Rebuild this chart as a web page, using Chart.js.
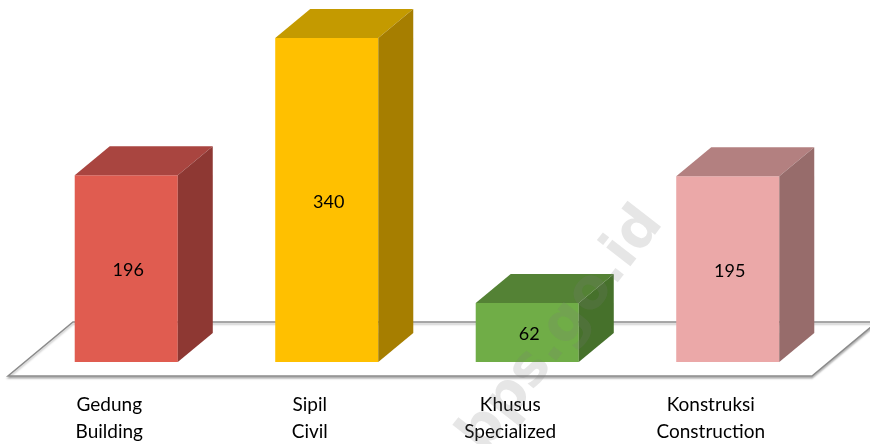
<!DOCTYPE html>
<html>
<head>
<meta charset="utf-8">
<script src="https://cdn.jsdelivr.net/npm/chart.js@4.4.1/dist/chart.umd.min.js"></script>
<style>
  html, body { margin: 0; padding: 0; background: #fff; }
  #wrap { width: 870px; height: 444px; position: relative; }
</style>
</head>
<body>
<div id="wrap"><canvas id="chart"></canvas></div>
<script>
const categories = [['Gedung', 'Building'], ['Sipil', 'Civil'], ['Khusus', 'Specialized'], ['Konstruksi', 'Construction']];
const values = [196, 340, 62, 195];
const frontColors = ['#E05C50', '#FFC000', '#70AD47', '#EBA8A8'];
const topColors = ['#A94540', '#C49A00', '#548235', '#B38080'];
const sideColors = ['#8E3833', '#A67E00', '#46712B', '#976C6B'];

const DX = 35, DY = 29; // bar depth

// floor plane under the bars
const floorPlugin = {
  id: 'floor',
  beforeDatasetsDraw(chart) {
    const { ctx, chartArea } = chart;
    const base = chart.scales.y.getPixelForValue(0);
    const l = chartArea.left, r = chartArea.right;
    ctx.save();
    ctx.beginPath();
    ctx.moveTo(l - 18, base + 14);
    ctx.lineTo(r - 16, base + 14);
    ctx.lineTo(r + 49, base - 40);
    ctx.lineTo(l + 47, base - 40);
    ctx.closePath();
    ctx.fillStyle = '#ffffff';
    ctx.shadowColor = 'rgba(0,0,0,0.25)';
    ctx.shadowOffsetY = 2;
    ctx.shadowBlur = 2;
    ctx.strokeStyle = '#8c8c8c';
    ctx.lineWidth = 1.5;
    ctx.fill();
    ctx.stroke();
    ctx.restore();
  }
};

// top + side faces and value labels
const boxPlugin = {
  id: 'box',
  afterDatasetsDraw(chart) {
    const { ctx } = chart;
    const meta = chart.getDatasetMeta(0);
    meta.data.forEach((bar, i) => {
      const L = bar.x - bar.width / 2, R = bar.x + bar.width / 2;
      const t = bar.y, b = bar.base;
      ctx.save();
      ctx.fillStyle = topColors[i];
      ctx.beginPath();
      ctx.moveTo(L, t);
      ctx.lineTo(L + DX, t - DY);
      ctx.lineTo(R + DX, t - DY);
      ctx.lineTo(R, t);
      ctx.closePath();
      ctx.fill();
      ctx.fillStyle = sideColors[i];
      ctx.beginPath();
      ctx.moveTo(R, t);
      ctx.lineTo(R + DX, t - DY);
      ctx.lineTo(R + DX, b - DY);
      ctx.lineTo(R, b);
      ctx.closePath();
      ctx.fill();
      ctx.fillStyle = '#000';
      ctx.font = '18px Lato';
      ctx.textAlign = 'center';
      ctx.textBaseline = 'middle';
      ctx.fillText(String(values[i]), bar.x + 2, (t + b) / 2 + 2);
      ctx.restore();
    });
  }
};

const watermarkPlugin = {
  id: 'watermark',
  afterDraw(chart) {
    const { ctx } = chart;
    ctx.save();
    ctx.translate(562, 330);
    ctx.rotate(-52 * Math.PI / 180);
    ctx.font = 'bold 56px "DejaVu Sans"';
    const w = ctx.measureText('bps.go.id').width;
    ctx.textAlign = 'right';
    ctx.textBaseline = 'middle';
    ctx.fillStyle = 'rgba(120,120,120,0.19)';
    ctx.fillText('www.bps.go.id', w / 2, 0);
    ctx.restore();
  }
};

new Chart(document.getElementById('chart'), {
  type: 'bar',
  data: {
    labels: categories,
    datasets: [
      {
        data: values,
        backgroundColor: frontColors,
        borderWidth: 0,
        barPercentage: 0.514,
        categoryPercentage: 1,
      },
    ],
  },
  options: {
    responsive: true,
    maintainAspectRatio: false,
    animation: false,
    layout: { padding: { left: 26, right: 42, top: 0, bottom: 0 } },
    plugins: {
      legend: { display: false },
      tooltip: { enabled: false },
    },
    scales: {
      x: {
        grid: { display: false, drawTicks: false },
        border: { display: false },
        ticks: {
          color: '#000',
          font: { family: 'Lato', size: 19, lineHeight: '27px' },
          padding: 29,
          labelOffset: -17,
          maxRotation: 0,
          autoSkip: false,
        },
        afterFit(scale) { scale.height = 82; },
      },
      y: {
        display: false,
        min: 0,
        max: 380,
      },
    },
  },
  plugins: [floorPlugin, boxPlugin, watermarkPlugin],
});
</script>
</body>
</html>
